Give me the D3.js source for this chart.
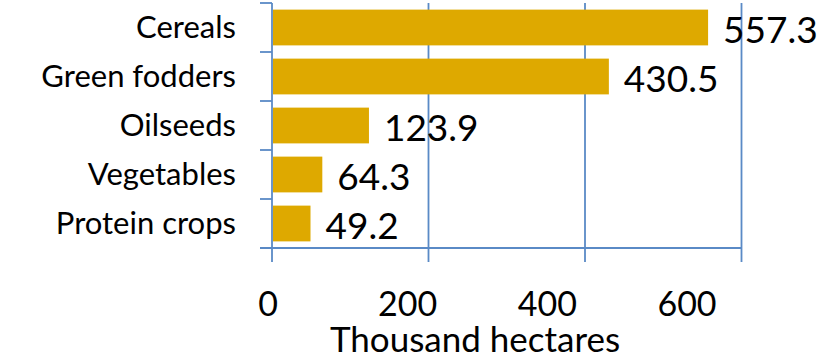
<!DOCTYPE html>
<html><head><meta charset="utf-8">
<script src="https://cdn.jsdelivr.net/npm/d3@7"></script>
<style>body{margin:0;background:#fff}svg{display:block}text{font-family:Lato,"Open Sans",sans-serif;fill:#000}</style>
</head><body><div id="chart"></div>
<script>
const categories = ["Cereals","Green fodders","Oilseeds","Vegetables","Protein crops"];
const values = [557.3, 430.5, 123.9, 64.3, 49.2];
const tickValues = [0, 200, 400, 600];
const axisTitle = "Thousand hectares";

const W = 825, H = 360;
const svg = d3.select("#chart").append("svg").attr("width", W).attr("height", H);
const x = d3.scaleLinear().domain([0, 600]).range([272, 741.5]);
const xLabel = d3.scaleLinear().domain([0, 600]).range([268, 687]);
const y = d3.scaleBand().domain(categories).range([3, 248]).paddingInner(0.27).paddingOuter(0.135);
const blue = "#5a8ac6";

svg.append("g").selectAll("line").data(tickValues).join("line")
  .attr("x1", d => x(d)).attr("x2", d => x(d)).attr("y1", 3).attr("y2", 262)
  .attr("stroke", blue).attr("stroke-width", 1.8);
svg.append("line").attr("x1", 260).attr("x2", x(600)).attr("y1", 248).attr("y2", 248)
  .attr("stroke", blue).attr("stroke-width", 1.8);
const bounds = categories.map(c => y(c) - y.step()*y.paddingInner()/2).concat([248]);
svg.append("g").selectAll("line").data(bounds).join("line")
  .attr("x1", 260).attr("x2", 272).attr("y1", d => d).attr("y2", d => d)
  .attr("stroke", blue).attr("stroke-width", 1.8);

svg.append("g").selectAll("rect").data(values).join("rect")
  .attr("x", x(0) + 1).attr("y", (d, i) => y(categories[i]))
  .attr("width", d => x(d) - x(0) - 1).attr("height", y.bandwidth())
  .attr("fill", "#dea900");

svg.append("g").selectAll("text").data(values).join("text")
  .attr("x", d => x(d) + 15).attr("y", (d, i) => y(categories[i]) + y.bandwidth()/2 + 15)
  .attr("font-size", 37).text(d => d.toFixed(1));

svg.append("g").selectAll("text").data(categories).join("text")
  .attr("x", 236).attr("y", d => y(d) + y.bandwidth()/2 + 10)
  .attr("text-anchor", "end").attr("font-size", 31).text(d => d);

svg.append("g").selectAll("text").data(tickValues).join("text")
  .attr("x", d => xLabel(d)).attr("y", 316).attr("text-anchor", "middle")
  .attr("font-size", 34).text(d => d);

svg.append("text").attr("x", 475).attr("y", 352).attr("text-anchor", "middle")
  .attr("font-size", 35).text(axisTitle);
</script></body></html>
